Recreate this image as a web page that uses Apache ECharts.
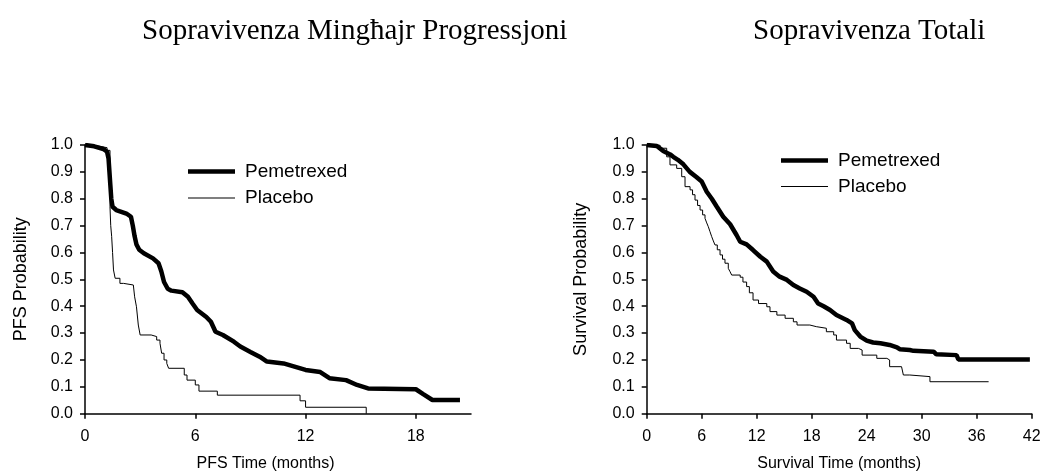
<!DOCTYPE html>
<html>
<head>
<meta charset="utf-8">
<title>Sopravivenza</title>
<script src="https://cdn.jsdelivr.net/npm/echarts@6/dist/echarts.min.js"></script>
<style>
  html, body { margin: 0; padding: 0; background: #fff; }
  #chart { width: 1060px; height: 473px; }
</style>
</head>
<body>
<div id="chart"></div>
<script>
// Kaplan-Meier curves: [months, probability]
const pfsPemetrexed = [
  [0, 1], [0.5, 0.995], [1.0, 0.985], [1.2, 0.975], [1.28, 0.95], [1.33, 0.9], [1.38, 0.85],
  [1.43, 0.8], [1.5, 0.77], [1.7, 0.758], [2.25, 0.745], [2.5, 0.733], [2.6, 0.7], [2.7, 0.66],
  [2.8, 0.63], [2.95, 0.61], [3.2, 0.597], [3.7, 0.578], [4.0, 0.56], [4.15, 0.53], [4.3, 0.49],
  [4.5, 0.465], [4.7, 0.458], [5.3, 0.452], [5.6, 0.435], [5.85, 0.41], [6.1, 0.386], [6.6, 0.36],
  [6.85, 0.342], [7.0, 0.32], [7.1, 0.305], [7.5, 0.293], [8.1, 0.268], [8.45, 0.25], [9.0, 0.23],
  [9.5, 0.212], [9.9, 0.194], [10.8, 0.187], [11.4, 0.175], [12.0, 0.163], [12.8, 0.155],
  [13.3, 0.132], [14.2, 0.125], [14.8, 0.107], [15.4, 0.094], [18.0, 0.091], [18.4, 0.073],
  [18.9, 0.051], [20.4, 0.051]
];
const pfsPlacebo = [
  [0, 1], [0.3, 0.995], [0.8, 0.99], [1.2, 0.98], [1.36, 0.77], [1.4, 0.7], [1.45, 0.66],
  [1.5, 0.6], [1.55, 0.535], [1.64, 0.504], [1.9, 0.485], [2.1, 0.479], [2.63, 0.473], [2.7, 0.435],
  [2.8, 0.398], [2.9, 0.33], [3.0, 0.293], [3.6, 0.287], [3.9, 0.274], [4.08, 0.262], [4.17, 0.225],
  [4.3, 0.2], [4.45, 0.187], [4.55, 0.169], [5.4, 0.144], [5.55, 0.125], [6.0, 0.107], [6.2, 0.084],
  [7.2, 0.069], [11.7, 0.048], [12.0, 0.024], [15.3, 0]
];
const osPemetrexed = [
  [0, 1], [1.1, 0.996], [1.8, 0.978], [2.55, 0.965], [2.9, 0.956], [3.4, 0.945], [4.0, 0.928],
  [4.7, 0.9], [5.45, 0.88], [6.0, 0.864], [6.55, 0.826], [7.1, 0.8], [7.65, 0.77], [8.35, 0.733],
  [9.1, 0.705], [9.8, 0.665], [10.2, 0.64], [10.9, 0.63], [11.6, 0.609], [12.4, 0.584], [13.1, 0.566],
  [13.8, 0.529], [14.5, 0.51], [15.3, 0.498], [16.0, 0.479], [16.7, 0.466], [17.45, 0.454],
  [18.2, 0.435], [18.7, 0.41], [19.3, 0.4], [20.0, 0.386], [20.7, 0.367], [21.8, 0.349],
  [22.4, 0.336], [22.7, 0.311], [23.3, 0.287], [24.0, 0.272], [24.7, 0.265], [25.5, 0.262],
  [26.5, 0.256], [27.3, 0.247], [27.6, 0.24], [28.7, 0.237], [29.1, 0.234], [31.3, 0.231],
  [31.6, 0.221], [33.8, 0.218], [34.0, 0.202], [41.8, 0.202]
];
const osPlacebo = [
  [0, 1], [1.45, 0.988], [2.18, 0.956], [2.54, 0.926], [3.27, 0.913], [3.82, 0.882], [4.18, 0.845],
  [4.73, 0.833], [5.0, 0.815], [5.27, 0.795], [5.55, 0.775], [5.82, 0.758], [6.1, 0.74],
  [6.36, 0.727], [6.55, 0.71], [6.72, 0.696], [6.9, 0.678], [7.09, 0.659], [7.27, 0.643],
  [7.45, 0.628], [7.7, 0.61], [8.0, 0.591], [8.27, 0.575], [8.54, 0.56], [8.9, 0.541],
  [9.1, 0.528], [9.27, 0.516], [10.2, 0.508], [10.5, 0.49], [10.9, 0.473], [11.2, 0.45],
  [11.6, 0.423], [12.2, 0.41], [13.1, 0.398], [13.45, 0.38], [14.2, 0.367], [15.1, 0.355],
  [16.0, 0.342], [16.4, 0.33], [17.8, 0.324], [18.5, 0.318], [19.6, 0.305], [20.4, 0.293],
  [20.7, 0.274], [21.8, 0.262], [22.2, 0.243], [23.1, 0.237], [23.5, 0.218], [25.1, 0.206],
  [26.2, 0.2], [26.5, 0.175], [27.8, 0.169], [28.0, 0.144], [28.7, 0.138], [30.9, 0.119],
  [37.3, 0.119]
];

const pfsTicks = [0, 6, 12, 18];
const osTicks = [0, 6, 12, 18, 24, 30, 36, 42];
const titles = ['Sopravivenza Mingħajr Progressjoni', 'Sopravivenza Totali'];
const groupNames = ['Pemetrexed', 'Placebo'];

const chart = echarts.init(document.getElementById('chart'));

const sans = 'Liberation Sans, Arial, sans-serif';
const serif = 'Liberation Serif, Times New Roman, serif';

function xAxis(idx, max, ticks, name, shift) {
  return {
    type: 'value', gridIndex: idx, min: 0, max: max,
    name: name, nameLocation: 'middle', nameGap: 42,
    nameTextStyle: { fontFamily: sans, fontSize: 16, color: '#000', padding: [0, shift, 0, 0] },
    axisLine: { lineStyle: { color: '#000', width: 1.5 } },
    axisTick: { customValues: ticks, length: 5, lineStyle: { color: '#000', width: 1.5 } },
    axisLabel: { customValues: ticks, margin: 15, fontFamily: sans, fontSize: 16, color: '#000' },
    splitLine: { show: false }
  };
}

function yAxis(idx, name, gap) {
  return {
    type: 'value', gridIndex: idx, min: 0, max: 1, interval: 0.1,
    name: name, nameLocation: 'middle', nameGap: gap,
    nameTextStyle: { fontFamily: sans, fontSize: 18, color: '#000' },
    axisLine: { show: true, lineStyle: { color: '#000', width: 1.5 } },
    axisTick: { show: true, length: 5, lineStyle: { color: '#000', width: 1.5 } },
    axisLabel: { margin: 12, fontFamily: sans, fontSize: 16, color: '#000',
      formatter: v => v.toFixed(1) },
    splitLine: { show: false }
  };
}

function legend(name, x, y, h) {
  return {
    data: [name], left: x, top: y, padding: 0, icon: 'rect',
    itemWidth: 47, itemHeight: h, selectedMode: false,
    itemStyle: { color: '#000', borderWidth: 0 },
    textStyle: { fontFamily: sans, fontSize: 19, color: '#000', padding: [0, 0, 0, 5] }
  };
}

function km(name, data, idx, width, step) {
  return {
    name: name, type: 'line', xAxisIndex: idx, yAxisIndex: idx,
    data: data, step: step, symbol: 'none', silent: true,
    color: '#000', lineStyle: { color: '#000', width: width }
  };
}

const option = {
  animation: false,
  backgroundColor: '#fff',
  title: [
    { text: titles[0], left: 142, top: 17, padding: 0,
      textStyle: { fontFamily: serif, fontSize: 29, fontWeight: 'normal', color: '#000' } },
    { text: titles[1], left: 753, top: 17, padding: 0,
      textStyle: { fontFamily: serif, fontSize: 29, fontWeight: 'normal', color: '#000' } }
  ],
  legend: [
    legend(groupNames[0], 188, 162, 4.5),
    legend(groupNames[1], 188, 188.6, 1),
    legend(groupNames[0], 781, 151, 4.5),
    legend(groupNames[1], 781, 177, 1)
  ],
  grid: [
    { left: 85, top: 145, width: 386, height: 268.7, outerBoundsMode: 'none' },
    { left: 646.7, top: 145, width: 385, height: 268.7, outerBoundsMode: 'none' }
  ],
  xAxis: [
    xAxis(0, 21, pfsTicks, 'PFS Time (months)', 25),
    xAxis(1, 42, osTicks, 'Survival Time (months)', 0)
  ],
  yAxis: [
    yAxis(0, 'PFS Probability', 55),
    yAxis(1, 'Survival Probability', 57)
  ],
  series: [
    km(groupNames[1], pfsPlacebo, 0, 1, 'end'),
    km(groupNames[0], pfsPemetrexed, 0, 4.5, false),
    km(groupNames[1], osPlacebo, 1, 1, 'end'),
    km(groupNames[0], osPemetrexed, 1, 4.5, false)
  ]
};

chart.setOption(option);
window.addEventListener('resize', () => chart.resize());
</script>
</body>
</html>
